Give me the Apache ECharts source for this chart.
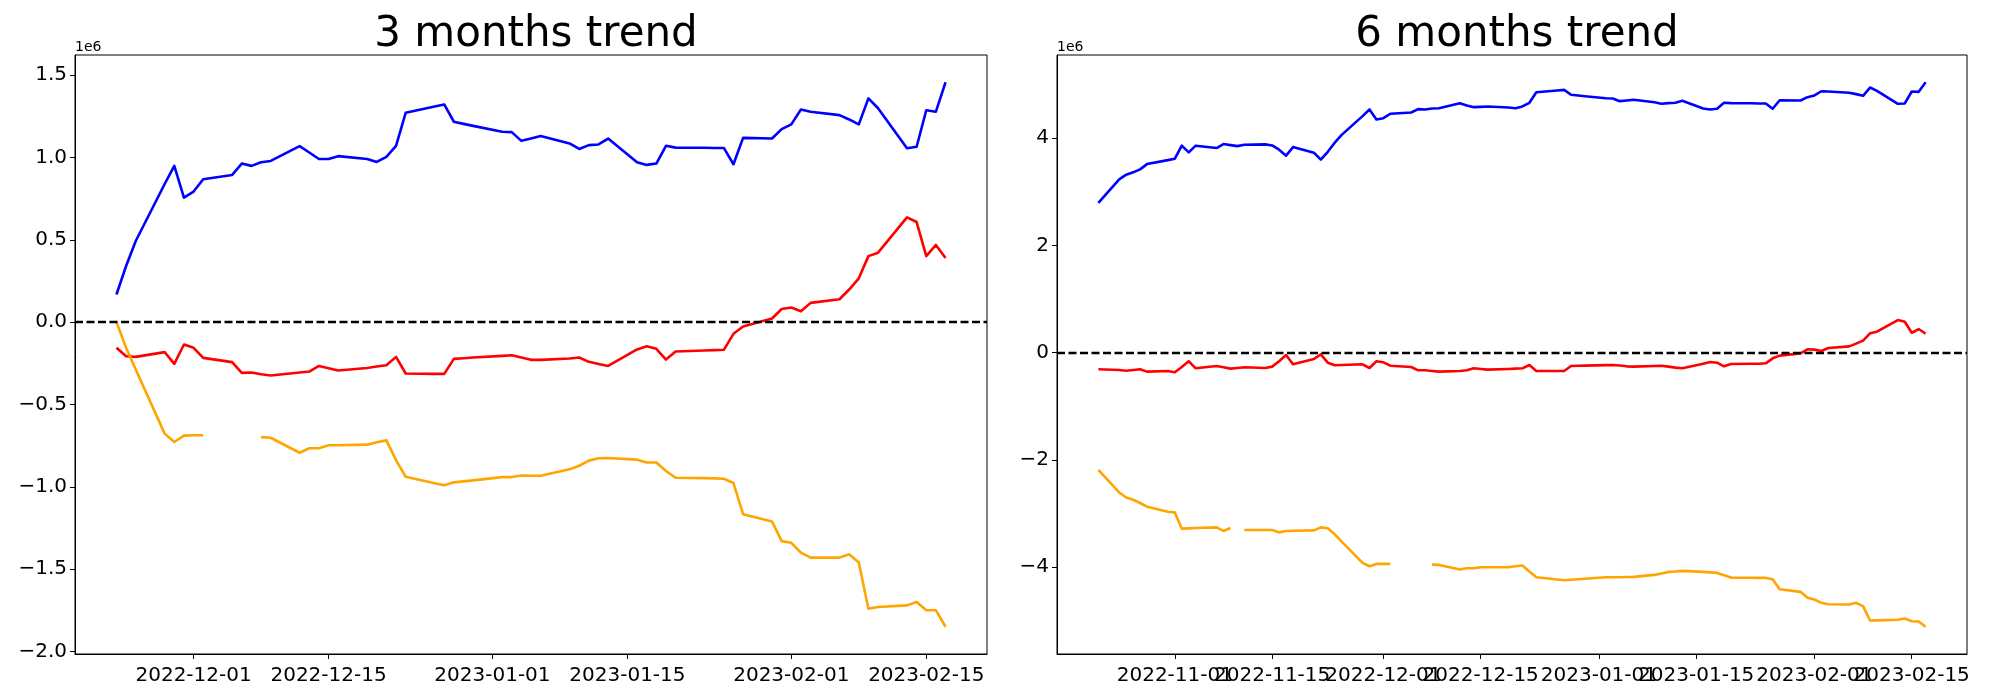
<!DOCTYPE html>
<html>
<head>
<meta charset="utf-8">
<script src="https://cdn.jsdelivr.net/npm/echarts@6/dist/echarts.min.js"></script>
<style>
html,body{margin:0;padding:0;background:#fff;}
#chart{width:2000px;height:700px;}
</style>
</head>
<body>
<div id="chart"></div>
<script>
// ---- data (values in units of 1e6) ----
const dates3m = ['2022-11-23','2022-11-24','2022-11-25','2022-11-28','2022-11-29','2022-11-30',
'2022-12-01','2022-12-02','2022-12-05','2022-12-06','2022-12-07','2022-12-08','2022-12-09','2022-12-12','2022-12-13','2022-12-14','2022-12-15','2022-12-16','2022-12-19','2022-12-20','2022-12-21','2022-12-22','2022-12-23','2022-12-26','2022-12-27','2022-12-28','2022-12-29','2022-12-30',
'2023-01-02','2023-01-03','2023-01-04','2023-01-05','2023-01-06','2023-01-09','2023-01-10','2023-01-11','2023-01-12','2023-01-13','2023-01-16','2023-01-17','2023-01-18','2023-01-19','2023-01-20','2023-01-23','2023-01-24','2023-01-25','2023-01-26','2023-01-27','2023-01-30','2023-01-31',
'2023-02-01','2023-02-02','2023-02-03','2023-02-06','2023-02-07','2023-02-08','2023-02-09','2023-02-10','2023-02-13','2023-02-14','2023-02-15','2023-02-16','2023-02-17'];

const blue3m = [0.168,0.341,0.493,0.839,0.949,0.756,
0.793,0.868,0.894,0.963,0.949,0.971,0.979,1.069,1.030,0.991,0.991,1.008,0.991,0.973,1.004,1.071,1.271,1.310,1.322,1.217,1.204,1.192,
1.156,1.154,1.101,1.115,1.130,1.085,1.052,1.075,1.079,1.115,0.971,0.955,0.963,1.071,1.060,1.059,1.058,1.058,0.959,1.119,1.115,1.172,
1.201,1.291,1.278,1.257,1.231,1.201,1.359,1.299,1.056,1.065,1.287,1.278,1.457];

const red3m = [-0.156,-0.207,-0.211,-0.182,-0.253,-0.136,
-0.156,-0.217,-0.243,-0.308,-0.306,-0.316,-0.324,-0.306,-0.300,-0.266,-0.280,-0.294,-0.278,-0.269,-0.262,-0.211,-0.312,-0.314,-0.314,-0.223,-0.219,-0.215,
-0.205,-0.201,-0.215,-0.229,-0.229,-0.221,-0.215,-0.241,-0.254,-0.266,-0.166,-0.146,-0.162,-0.227,-0.178,-0.172,-0.170,-0.168,-0.071,-0.026,0.022,0.080,
0.089,0.066,0.117,0.139,0.198,0.266,0.401,0.422,0.636,0.608,0.401,0.469,0.390];

const orange3m = [0.0,-0.155,-0.288,-0.677,-0.728,-0.689,
-0.687,-0.687,null,null,null,-0.698,-0.702,-0.793,-0.766,-0.766,-0.748,-0.748,-0.744,-0.730,-0.718,-0.838,-0.939,-0.979,-0.991,-0.973,-0.967,-0.961,
-0.941,-0.941,-0.931,-0.933,-0.933,-0.894,-0.872,-0.841,-0.827,-0.825,-0.835,-0.852,-0.852,-0.904,-0.945,-0.947,-0.949,-0.951,-0.977,-1.166,-1.210,-1.330,
-1.340,-1.400,-1.430,-1.430,-1.410,-1.460,-1.740,-1.730,-1.720,-1.700,-1.750,-1.750,-1.850];

const dates6m = ['2022-10-21','2022-10-24','2022-10-25','2022-10-26','2022-10-27','2022-10-28','2022-10-31',
'2022-11-01','2022-11-02','2022-11-03','2022-11-04','2022-11-07','2022-11-08','2022-11-09','2022-11-10','2022-11-11','2022-11-14','2022-11-15','2022-11-16','2022-11-17','2022-11-18','2022-11-21','2022-11-22','2022-11-23','2022-11-24','2022-11-25','2022-11-28','2022-11-29','2022-11-30',
'2022-12-01','2022-12-02','2022-12-05','2022-12-06','2022-12-07','2022-12-08','2022-12-09','2022-12-12','2022-12-13','2022-12-14','2022-12-15','2022-12-16','2022-12-19','2022-12-20','2022-12-21','2022-12-22','2022-12-23','2022-12-26','2022-12-27','2022-12-28','2022-12-29','2022-12-30',
'2023-01-02','2023-01-03','2023-01-04','2023-01-05','2023-01-06','2023-01-09','2023-01-10','2023-01-11','2023-01-12','2023-01-13','2023-01-16','2023-01-17','2023-01-18','2023-01-19','2023-01-20','2023-01-23','2023-01-24','2023-01-25','2023-01-26','2023-01-27','2023-01-30','2023-01-31',
'2023-02-01','2023-02-02','2023-02-03','2023-02-06','2023-02-07','2023-02-08','2023-02-09','2023-02-10','2023-02-13','2023-02-14','2023-02-15','2023-02-16','2023-02-17'];

const blue6m = [2.791,3.232,3.319,3.362,3.418,3.516,3.590,
3.617,3.859,3.734,3.859,3.815,3.889,3.870,3.851,3.877,3.883,3.864,3.785,3.673,3.833,3.729,3.598,3.745,3.915,4.060,4.410,4.534,4.348,
4.372,4.454,4.478,4.540,4.534,4.553,4.558,4.651,4.608,4.577,4.583,4.590,4.571,4.558,4.590,4.659,4.856,4.887,4.900,4.808,4.795,4.782,
4.744,4.739,4.689,4.701,4.714,4.670,4.640,4.652,4.659,4.696,4.553,4.534,4.547,4.659,4.652,4.650,4.646,4.646,4.547,4.707,4.701,4.763,
4.795,4.874,4.868,4.845,4.820,4.789,4.943,4.882,4.640,4.646,4.869,4.863,5.042];

const red6m = [-0.309,-0.322,-0.335,-0.322,-0.309,-0.353,-0.341,
-0.365,-0.266,-0.160,-0.291,-0.248,-0.270,-0.297,-0.284,-0.272,-0.284,-0.260,-0.160,-0.043,-0.216,-0.117,-0.030,-0.186,-0.235,-0.228,-0.216,-0.285,-0.160,
-0.179,-0.242,-0.266,-0.328,-0.328,-0.340,-0.353,-0.340,-0.328,-0.291,-0.303,-0.316,-0.303,-0.297,-0.291,-0.229,-0.341,-0.341,-0.341,-0.248,-0.242,-0.240,
-0.232,-0.229,-0.240,-0.254,-0.260,-0.248,-0.242,-0.260,-0.278,-0.291,-0.204,-0.173,-0.186,-0.254,-0.211,-0.207,-0.205,-0.198,-0.105,-0.055,-0.012,0.063,
0.057,0.032,0.087,0.118,0.170,0.225,0.361,0.391,0.608,0.577,0.372,0.441,0.353];

const orange6m = [-2.182,-2.605,-2.698,-2.741,-2.802,-2.871,-2.964,
-2.977,-3.280,-3.274,-3.267,-3.256,-3.323,-3.267,null,-3.304,-3.304,-3.304,-3.349,-3.325,-3.320,-3.312,-3.256,-3.274,-3.386,-3.523,-3.918,-3.981,-3.937,
-3.937,-3.937,null,null,null,-3.950,-3.956,-4.043,-4.018,-4.018,-4.000,-4.000,-4.000,-3.981,-3.968,-4.080,-4.186,-4.228,-4.242,-4.233,-4.224,-4.215,
-4.186,-4.186,-4.186,-4.180,-4.179,-4.142,-4.117,-4.086,-4.078,-4.067,-4.086,-4.095,-4.105,-4.148,-4.192,-4.195,-4.198,-4.198,-4.223,-4.409,-4.458,-4.570,
-4.601,-4.663,-4.688,-4.694,-4.663,-4.725,-4.992,-4.990,-4.979,-4.955,-5.005,-5.011,-5.109];

const xTicks3m = ['2022-12-01','2022-12-15','2023-01-01','2023-01-15','2023-02-01','2023-02-15'];
const xTicks6m = ['2022-11-01','2022-11-15','2022-12-01','2022-12-15','2023-01-01','2023-01-15','2023-02-01','2023-02-15'];
const yTicks3m = [-2.0,-1.5,-1.0,-0.5,0.0,0.5,1.0,1.5];
const yTicks6m = [-4,-2,0,2,4];
const titles = ['3 months trend','6 months trend'];
const offsetText = '1e6';

// ---- helpers ----
const FONT = 'DejaVu Sans';
function ms(s){const p=s.split('-').map(Number);return Date.UTC(p[0],p[1]-1,p[2]);}
function pad(n){return (n<10?'0':'')+n;}
function fmtDate(v){const d=new Date(v);return d.getUTCFullYear()+'-'+pad(d.getUTCMonth()+1)+'-'+pad(d.getUTCDate());}
function fmtNum(dec){return v=>(v<0?'\u2212':'')+Math.abs(v).toFixed(dec);}
function pairs(dates,vals){return dates.map((d,i)=>[ms(d), vals[i]==null?null:vals[i]]);}
function xRange(dates){const a=ms(dates[0]),b=ms(dates[dates.length-1]);const m=(b-a)*0.05;return [a-m,b+m];}
function yRange(arrs){let lo=Infinity,hi=-Infinity;arrs.forEach(a=>a.forEach(v=>{if(v!=null){lo=Math.min(lo,v);hi=Math.max(hi,v);}}));const m=(hi-lo)*0.05;return [lo-m,hi+m];}

const grids = [
  {left:75, top:55, width:912, height:599},
  {left:1057, top:55, width:910, height:599}
];
const panels = [
  {dates:dates3m, blue:blue3m, red:red3m, orange:orange3m, xt:xTicks3m, yt:yTicks3m, dec:1},
  {dates:dates6m, blue:blue6m, red:red6m, orange:orange6m, xt:xTicks6m, yt:yTicks6m, dec:0}
];

const xAxis=[], yAxis=[], series=[], graphic=[], title=[];
panels.forEach((p,i)=>{
  const xr=xRange(p.dates), yr=yRange([p.blue,p.red,p.orange]);
  const g=grids[i];
  xAxis.push({type:'value', gridIndex:i, min:xr[0], max:xr[1],
    axisLine:{show:true,onZero:false,lineStyle:{color:'#000',width:1}},
    axisTick:{show:true,length:5,lineStyle:{color:'#000',width:1},customValues:p.xt.map(ms)},
    axisLabel:{show:false},
    splitLine:{show:false}});
  yAxis.push({type:'value', gridIndex:i, min:yr[0], max:yr[1],
    axisLine:{show:true,onZero:false,lineStyle:{color:'#000',width:1}},
    axisTick:{show:true,length:5,lineStyle:{color:'#000',width:1},customValues:p.yt},
    axisLabel:{customValues:p.yt,formatter:fmtNum(p.dec),fontSize:20,color:'#000',fontFamily:FONT,margin:8,
      showMinLabel:true,showMaxLabel:true},
    splitLine:{show:false}});
  const common={type:'line',xAxisIndex:i,yAxisIndex:i,showSymbol:false,symbol:'none',connectNulls:false,animation:false};
  series.push(Object.assign({},common,{name:'zero',data:[],
    markLine:{silent:true,symbol:'none',label:{show:false},animation:false,
      lineStyle:{color:'#000',type:[8,3.5],width:2.3},data:[{yAxis:0}]}}));
  series.push(Object.assign({},common,{name:'blue',data:pairs(p.dates,p.blue),lineStyle:{color:'#0000ff',width:2.6,join:'round'}}));
  series.push(Object.assign({},common,{name:'red',data:pairs(p.dates,p.red),lineStyle:{color:'#ff0000',width:2.6,join:'round'}}));
  series.push(Object.assign({},common,{name:'orange',data:pairs(p.dates,p.orange),lineStyle:{color:'#ffa500',width:2.6,join:'round'}}));
  title.push({text:titles[i], left:g.left+g.width/2, textAlign:'center', top:9,
    textStyle:{fontSize:42,fontWeight:'normal',color:'#000',fontFamily:FONT}});
  graphic.push({type:'text', left:g.left, top:40, style:{text:offsetText, fontSize:14, fill:'#000', fontFamily:FONT}});
});

const chart=echarts.init(document.getElementById('chart'),null,{renderer:'canvas'});
chart.setOption({
  backgroundColor:'#fff',
  animation:false,
  title:title,
  grid:grids.map(g=>Object.assign({show:true,borderColor:'#000',borderWidth:1,containLabel:false},g)),
  xAxis:xAxis, yAxis:yAxis, series:series, graphic:graphic
});

// x tick labels placed through the axis scale (matplotlib draws them even when they overlap)
const labelGraphics = graphic.slice();
panels.forEach((p,i)=>{
  const g=grids[i];
  p.xt.forEach(t=>{
    const x=chart.convertToPixel({xAxisIndex:i}, ms(t));
    labelGraphics.push({type:'text', x:x, y:g.top+g.height+12,
      style:{text:fmtDate(ms(t)), fontSize:20, fill:'#000', fontFamily:FONT, align:'center', verticalAlign:'top',
        textAlign:'center', textVerticalAlign:'top'}});
  });
});
chart.setOption({graphic:labelGraphics});
</script>
</body>
</html>
